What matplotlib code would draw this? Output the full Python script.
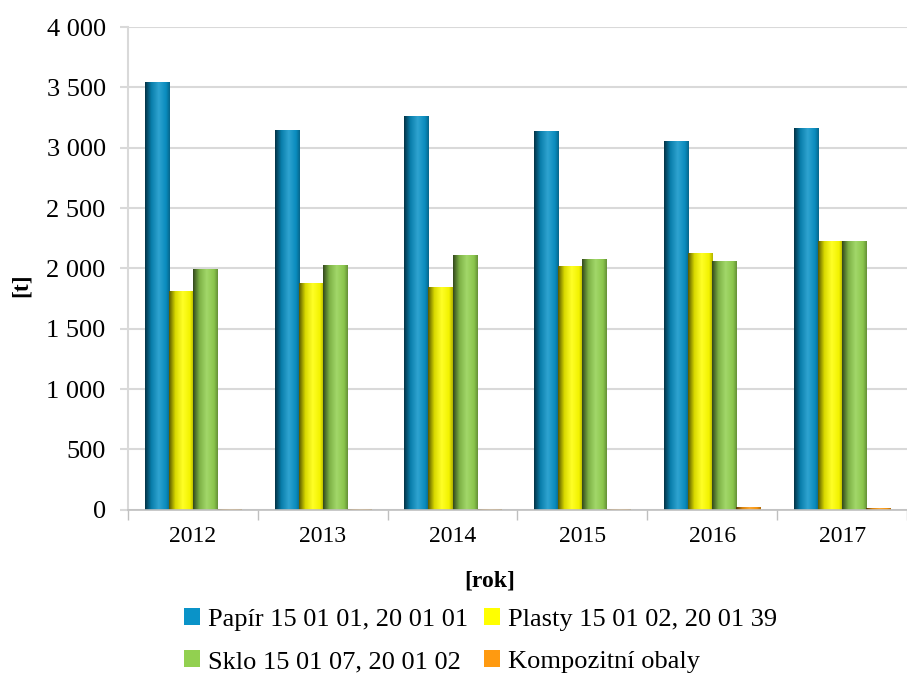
import numpy as np
import matplotlib
matplotlib.use('Agg')
import matplotlib.pyplot as plt
from matplotlib.colors import LinearSegmentedColormap, to_rgb
from matplotlib.ticker import FuncFormatter

plt.rcParams['font.family'] = ['Liberation Serif', 'DejaVu Serif']

# Data
roky = ['2012', '2013', '2014', '2015', '2016', '2017']
papir = [3545, 3150, 3265, 3135, 3055, 3160]
plasty = [1815, 1880, 1850, 2020, 2130, 2230]
sklo = [1995, 2025, 2115, 2075, 2065, 2225]
kompozit = [5, 5, 8, 6, 20, 12]

nazvy = ['Papír 15 01 01, 20 01 01', 'Plasty 15 01 02, 20 01 39',
         'Sklo 15 01 07, 20 01 02', 'Kompozitní obaly']
barvy = ['#0a93c8', '#ffff00', '#92d050', '#ff9a10']

fig = plt.figure(figsize=(9.07, 6.77), dpi=100)
ax = fig.add_axes([0.141, 0.247, 0.859, 0.713])

x = np.arange(len(roky))
w = 0.185
serie = [papir, plasty, sklo, kompozit]


def shade(c, f):
    r = np.array(to_rgb(c))
    if f < 1:
        return tuple(r * f)
    return tuple(r + (1 - r) * (f - 1))


grad = np.linspace(0, 1, 64).reshape(1, -1)
handles = []
for i, (vals, c) in enumerate(zip(serie, barvy)):
    bars = ax.bar(x + (i - 1.5) * w, vals, w, color=c, label=nazvy[i], zorder=3)
    handles.append(bars)
    cmap = LinearSegmentedColormap.from_list(
        'g%d' % i, [(0, shade(c, 0.35)), (0.25, shade(c, 0.85)), (0.55, shade(c, 1.15)),
                    (0.85, shade(c, 0.95)), (1, shade(c, 0.7))])
    for b in bars:
        bx, by = b.get_x(), b.get_y()
        bw, bh = b.get_width(), b.get_height()
        im = ax.imshow(grad, cmap=cmap, aspect='auto', zorder=4,
                       extent=[bx, bx + bw, by, by + bh])
        im.set_clip_path(b)

ax.set_xlim(-0.5, len(roky) - 0.5)
ax.set_ylim(0, 4000)
ax.set_yticks(np.arange(0, 4001, 500))
ax.yaxis.set_major_formatter(FuncFormatter(lambda v, p: '{:,}'.format(int(v)).replace(',', ' ')))
ax.set_xticks(x)
ax.set_xticklabels(roky)
ax.set_xticks(np.arange(-0.5, len(roky), 1), minor=True)
ax.tick_params(axis='x', which='major', length=0, labelsize=17, pad=12)
ax.tick_params(axis='x', which='minor', length=7, color='#bfbfbf', width=1)
ax.tick_params(axis='y', length=6, color='#d9d9d9', width=1.5, labelsize=19, pad=10)

ax.grid(axis='y', color='#d9d9d9', linewidth=1.5, zorder=0)
for s in ['top', 'right']:
    ax.spines[s].set_visible(False)
ax.spines['left'].set_color('#d9d9d9')
ax.spines['left'].set_linewidth(1.5)
ax.spines['bottom'].set_color('#bfbfbf')
ax.spines['bottom'].set_linewidth(1.2)
ax.spines['bottom'].set_zorder(5)

ax.set_ylabel('[t]', fontsize=17, fontweight='bold', va='center')
ax.set_xlabel('[rok]', fontsize=17, fontweight='bold', va='center')
ax.yaxis.set_label_coords(-0.137, 0.466)
ax.xaxis.set_label_coords(0.465, -0.147)

order = [0, 2, 1, 3]
fig.legend([handles[k] for k in order], [nazvy[k] for k in order],
           loc='upper center', bbox_to_anchor=(0.53, 0.137), ncol=2,
           frameon=False, fontsize=19, handlelength=0.6, handleheight=0.6,
           handletextpad=0.3, columnspacing=0.6, labelspacing=0.75)

fig.savefig('out.png', dpi=100)
